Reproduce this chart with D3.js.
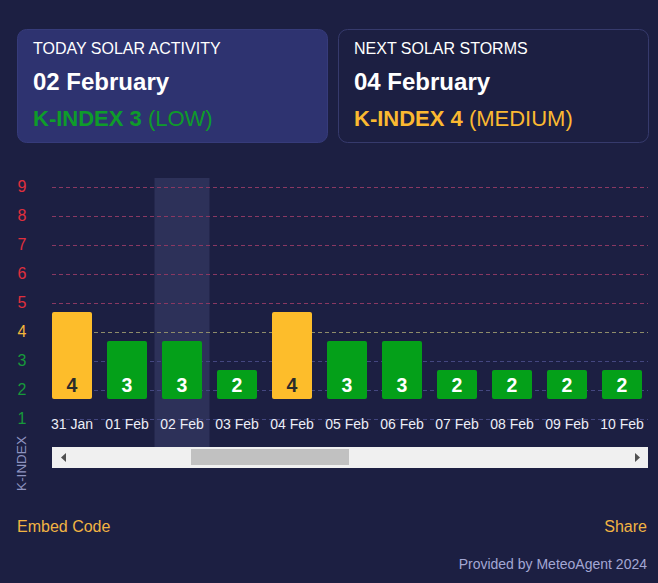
<!DOCTYPE html>
<html>
<head>
<meta charset="utf-8">
<script src="https://cdn.jsdelivr.net/npm/d3@7/dist/d3.min.js"></script>
<style>
  html, body { margin: 0; padding: 0; background: #1c1f42; }
  body { width: 658px; height: 583px; overflow: hidden; font-family: "Liberation Sans", Arial, sans-serif; }
  svg { display: block; }
</style>
</head>
<body>
<svg id="chart" width="658" height="583"></svg>
<script>
const categories = ["31 Jan", "01 Feb", "02 Feb", "03 Feb", "04 Feb", "05 Feb", "06 Feb", "07 Feb", "08 Feb", "09 Feb", "10 Feb"];
const kIndex = [4, 3, 3, 2, 4, 3, 3, 2, 2, 2, 2];
const yTicks = [1, 2, 3, 4, 5, 6, 7, 8, 9];
const todayLabel = "02 February";
const todayIndex = 3;
const todayLevel = "(LOW)";
const nextLabel = "04 February";
const nextIndex = 4;
const nextLevel = "(MEDIUM)";
const highlightCategory = "02 Feb";

const GREEN = "#04a019", YELLOW = "#fdbd2b", RED = "#e0303e";
const colorFor = v => v >= 5 ? RED : (v >= 4 ? YELLOW : GREEN);
const tickColor = v => v >= 5 ? "#e02f3d" : (v >= 4 ? "#f4b73a" : "#17993a");
const gridColor = v => v >= 5 ? "#8a3862" : (v >= 4 ? "#8e8c6a" : "#444780");

const svg = d3.select("#chart");

// ---- Cards ----
function card(x, fill, stroke, title, date, kval, level, col) {
  const g = svg.append("g").attr("transform", `translate(${x},29)`);
  g.append("rect").attr("x", 0.5).attr("y", 0.5).attr("width", 310).attr("height", 113)
    .attr("rx", 9).attr("fill", fill).attr("stroke", stroke);
  g.append("text").attr("x", 16).attr("y", 24.5).attr("fill", "#ffffff")
    .attr("font-size", 16).text(title);
  g.append("text").attr("x", 16).attr("y", 60.5).attr("fill", "#ffffff")
    .attr("font-size", 24).attr("font-weight", "bold").text(date);
  const t = g.append("text").attr("x", 16).attr("y", 97).attr("font-size", 22).attr("fill", col);
  t.append("tspan").attr("font-weight", "bold").text("K-INDEX " + kval);
  t.append("tspan").text(" " + level);
}
card(17, "#2e3370", "#363b7a", "TODAY SOLAR ACTIVITY", todayLabel, todayIndex, todayLevel, "#0e9c2a");
card(338, "#1c1f42", "#363a6c", "NEXT SOLAR STORMS", nextLabel, nextIndex, nextLevel, "#fbb931");

// ---- Chart ----
const x = d3.scaleBand().domain(categories).range([44.5, 649.5]).paddingInner(15 / 55).paddingOuter(7.5 / 55);
const y = d3.scaleLinear().domain([1, 9]).range([419.3, 187.3]);
const yBar = d3.scaleLinear().domain([1, 9]).range([399, 167]);
const baseY = yBar(1);

// highlight band
svg.append("rect")
  .attr("x", x(highlightCategory) - x.step() * x.paddingInner() / 2)
  .attr("y", 178).attr("width", x.step()).attr("height", 269)
  .attr("fill", "#2d3159");

// gridlines
svg.append("g").selectAll("line").data(yTicks).join("line")
  .attr("x1", 52).attr("x2", 648)
  .attr("y1", d => Math.round(y(d)) + 0.5).attr("y2", d => Math.round(y(d)) + 0.5)
  .attr("stroke", d => gridColor(d)).attr("stroke-width", 1).attr("stroke-dasharray", "4,3");

// y tick labels
svg.append("g").selectAll("text").data(yTicks).join("text")
  .attr("x", 22).attr("y", d => y(d) - 1).attr("dy", "0.35em")
  .attr("text-anchor", "middle").attr("font-size", 16)
  .attr("fill", d => tickColor(d)).text(d => d);

// bars
svg.append("g").selectAll("rect").data(kIndex).join("rect")
  .attr("x", (d, i) => x(categories[i])).attr("width", x.bandwidth())
  .attr("y", d => yBar(d)).attr("height", d => baseY - yBar(d))
  .attr("rx", 2).attr("fill", d => colorFor(d));

// bar value labels
svg.append("g").selectAll("text").data(kIndex).join("text")
  .attr("x", (d, i) => x(categories[i]) + x.bandwidth() / 2)
  .attr("y", 392).attr("text-anchor", "middle")
  .attr("font-size", 19.5).attr("font-weight", "bold")
  .attr("fill", d => d >= 4 ? "#2b2b2b" : "#ffffff").text(d => d);

// x axis labels
const xAxis = d3.axisBottom(x).tickSize(0).tickPadding(0);
const xg = svg.append("g").attr("transform", "translate(0,419)").call(xAxis);
xg.select(".domain").remove();
xg.selectAll("text").attr("font-size", 14).attr("fill", "#eceef6")
  .attr("font-family", "'Liberation Sans', Arial, sans-serif").attr("dy", "0.35em").attr("y", 5);

// axis title
svg.append("text").attr("transform", "translate(26,463.5) rotate(-90)")
  .attr("text-anchor", "middle").attr("font-size", 13.5).attr("fill", "#8e93c0")
  .text("K-INDEX");

// scrollbar
svg.append("rect").attr("x", 52).attr("y", 447).attr("width", 596).attr("height", 21).attr("fill", "#f0f0f0");
svg.append("rect").attr("x", 191).attr("y", 449).attr("width", 158).attr("height", 16).attr("fill", "#c1c1c1");
svg.append("path").attr("d", "M66,453 L61,457.5 L66,462 Z").attr("fill", "#505050");
svg.append("path").attr("d", "M635,453 L640,457.5 L635,462 Z").attr("fill", "#505050");

// footer
svg.append("text").attr("x", 17).attr("y", 531.5).attr("font-size", 16).attr("fill", "#f2b443").text("Embed Code");
svg.append("text").attr("x", 647).attr("y", 531.5).attr("text-anchor", "end").attr("font-size", 16).attr("fill", "#f2b443").text("Share");
svg.append("text").attr("x", 647).attr("y", 569).attr("text-anchor", "end").attr("font-size", 14).attr("fill", "#a3a7d4").text("Provided by MeteoAgent 2024");
</script>
</body>
</html>
